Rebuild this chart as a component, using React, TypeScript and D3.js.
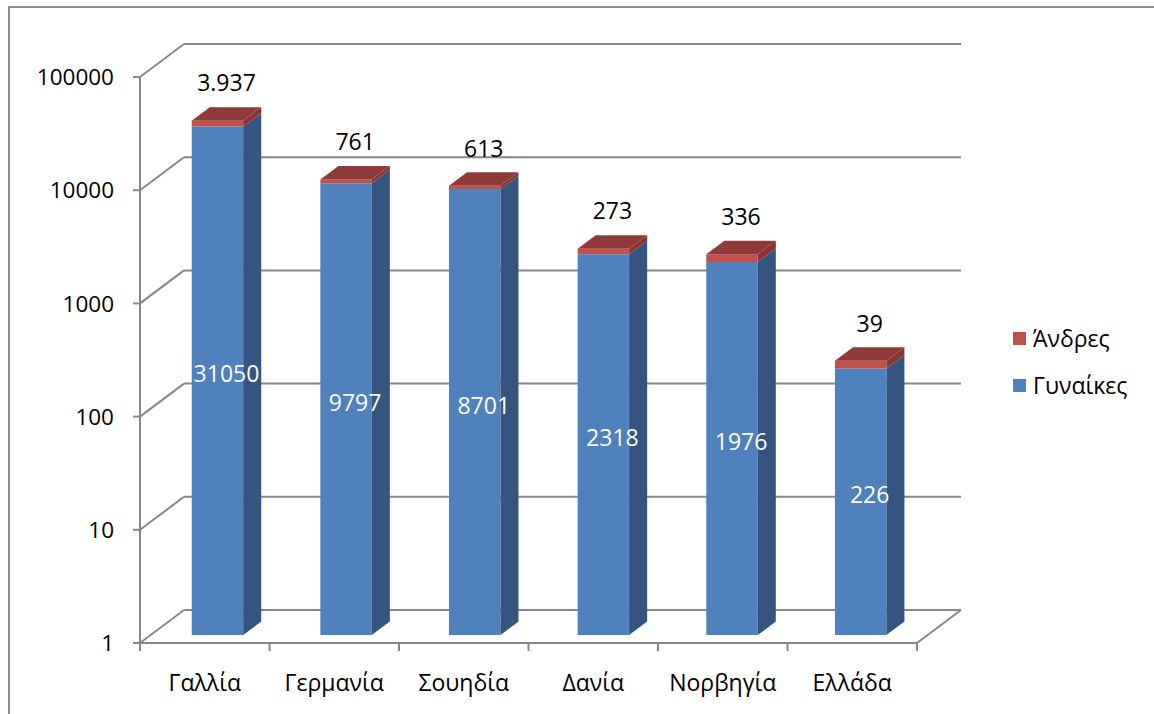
import React from "react";
import * as d3 from "d3";

// chart values
const categories = ["Γαλλία", "Γερμανία", "Σουηδία", "Δανία", "Νορβηγία", "Ελλάδα"];
const women = [31050, 9797, 8701, 2318, 1976, 226];
const men = [3937, 761, 613, 273, 336, 39];
const yTicks = [1, 10, 100, 1000, 10000, 100000];
const seriesNames = ["Άνδρες", "Γυναίκες"];

const W = 1154;
const H = 714;
const DX = 44; // depth offset of the back wall
const DY = 33;
const Z0 = 0.24; // bar front depth
const Z1 = 0.65; // bar back depth
const FONT = "'Open Sans', 'DejaVu Sans', sans-serif";
const GRID = "#878787";

const colors = {
  blueFront: "#4F81BD",
  blueSide: "#34557F",
  redFront: "#C0504D",
  redSide: "#8A3533",
  redTop: "#8E3A38",
};

const grLocale = d3.formatLocale({ decimal: ",", thousands: ".", grouping: [3], currency: ["€", ""] });
const fmtMen = grLocale.format(",d");

export default function App() {
  const y = d3.scaleLog().domain([1, 100000]).range([643, 77]);
  const x = d3.scaleBand().domain(categories).range([140, 917]).paddingInner(0.6).paddingOuter(0.32);
  const cat = d3.scaleBand().domain(categories).range([140, 917]);
  const x0 = 140;
  const x1 = 917;

  const pt = (px: number, py: number, z: number) => `${px + z * DX},${py - z * DY}`;

  const segment = (bx: number, bw: number, v0: number, v1: number, front: string, side: string) => {
    const yb = y(v0);
    const yt = y(v1);
    return (
      <g>
        <polygon
          points={[pt(bx, yt, Z0), pt(bx + bw, yt, Z0), pt(bx + bw, yb, Z0), pt(bx, yb, Z0)].join(" ")}
          fill={front}
        />
        <polygon
          points={[pt(bx + bw, yt, Z0), pt(bx + bw, yt, Z1), pt(bx + bw, yb, Z1), pt(bx + bw, yb, Z0)].join(" ")}
          fill={side}
        />
      </g>
    );
  };

  return (
    <svg
      width={W}
      height={H}
      style={{ position: "absolute", left: 0, top: 0, background: "#fff" }}
      fontFamily={FONT}
    >
      {/* outer frame */}
      <rect x={9} y={7} width={W + 20} height={H + 20} fill="none" stroke="#8c8c8c" strokeWidth={2} />

      {/* back wall gridlines + side wall diagonals */}
      {yTicks.map((t) => (
        <g key={t}>
          <line x1={x0 + DX} x2={x1 + DX} y1={y(t) - DY} y2={y(t) - DY} stroke={GRID} strokeWidth={2} />
          <line x1={x0} x2={x0 + DX} y1={y(t)} y2={y(t) - DY} stroke={GRID} strokeWidth={2} />
        </g>
      ))}
      {/* floor */}
      <line x1={x0} x2={x1} y1={y(1)} y2={y(1)} stroke={GRID} strokeWidth={2} />
      <line x1={x1} x2={x1 + DX} y1={y(1)} y2={y(1) - DY} stroke={GRID} strokeWidth={2} />
      {/* value axis */}
      <line x1={x0} x2={x0} y1={y(100000)} y2={y(1)} stroke={GRID} strokeWidth={2} />
      {yTicks.map((t) => (
        <g key={"yt" + t}>
          <line x1={x0 - 7} x2={x0} y1={y(t)} y2={y(t)} stroke={GRID} strokeWidth={2} />
          <text x={114} y={y(t)} dy="0.36em" textAnchor="end" fontSize={22.5} fill="#000">
            {t}
          </text>
        </g>
      ))}
      {/* category ticks */}
      {d3.range(categories.length + 1).map((i) => {
        const tx = x0 + i * cat.step();
        return <line key={"xt" + i} x1={tx} x2={tx} y1={y(1)} y2={y(1) + 8} stroke={GRID} strokeWidth={2} />;
      })}
      {categories.map((c) => (
        <text key={"xl" + c} x={(cat(c) as number) + cat.bandwidth() / 2} y={683} dy="0.36em" textAnchor="middle" fontSize={23} fill="#000">
          {c}
        </text>
      ))}

      {/* bars */}
      {categories.map((c, i) => {
        const bx = x(c) as number;
        const bw = x.bandwidth();
        const total = women[i] + men[i];
        const yt = y(total);
        const zm = (Z0 + Z1) / 2;
        const midY = (y(women[i]) + y(1)) / 2 - zm * DY;
        return (
          <g key={"bar" + c}>
            {segment(bx, bw, 1, women[i], colors.blueFront, colors.blueSide)}
            {segment(bx, bw, women[i], total, colors.redFront, colors.redSide)}
            <polygon
              points={[pt(bx, yt, Z0), pt(bx + bw, yt, Z0), pt(bx + bw, yt, Z1), pt(bx, yt, Z1)].join(" ")}
              fill={colors.redTop}
            />
            <text x={bx + bw / 2 + zm * DX} y={midY} dy="0.36em" textAnchor="middle" fontSize={23} fill="#fff">
              {women[i]}
            </text>
            <text x={bx + bw / 2 + zm * DX} y={yt - Z1 * DY - 24} dy="0.36em" textAnchor="middle" fontSize={23} fill="#000">
              {fmtMen(men[i])}
            </text>
          </g>
        );
      })}

      {/* legend */}
      {seriesNames.map((s, i) => (
        <g key={s} transform={`translate(1013, ${332 + i * 47})`}>
          <rect width={13} height={13} fill={i === 0 ? colors.redFront : colors.blueFront} />
          <text x={20} y={6.5} dy="0.36em" fontSize={23} fill="#000">
            {s}
          </text>
        </g>
      ))}
    </svg>
  );
}
